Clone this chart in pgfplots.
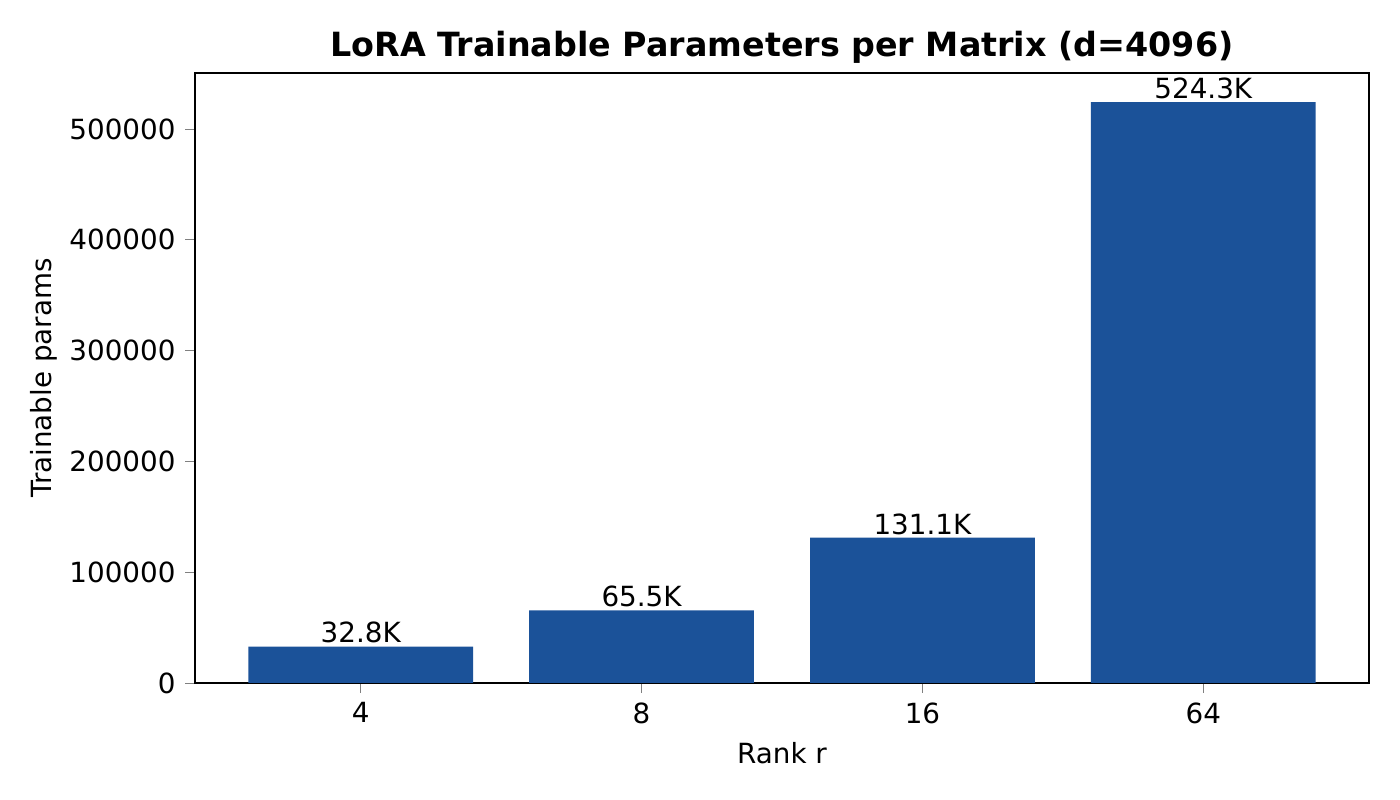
\documentclass[border=0pt]{standalone}
\usepackage{pgfplots}
\pgfplotsset{compat=1.18}
\usepackage{fontspec}
\setmainfont{DejaVu Sans}
\definecolor{barblue}{RGB}{27,82,153}

\begin{document}
\begin{tikzpicture}
\begin{axis}[
	scale only axis,
	width=422.64pt, height=219.6pt,
	at={(0,0)}, anchor=south west,
	title={\bfseries LoRA Trainable Parameters per Matrix (d=4096)},
	title style={font=\fontsize{12}{14}\selectfont\bfseries, yshift=-6pt},
	xlabel={Rank r}, ylabel={Trainable params},
	label style={font=\fontsize{10}{12}\selectfont},
	ylabel style={xshift=0pt, yshift=-2.5pt},
	tick label style={font=\fontsize{10}{12}\selectfont},
	xmin=-0.59, xmax=3.59,
	ymin=0, ymax=550502,
	xtick={0,1,2,3}, xticklabels={4,8,16,64},
	ytick={0,100000,200000,300000,400000,500000},
	scaled y ticks=false,
	/pgf/number format/.cd, fixed, 1000 sep={}, assume math mode=true,
	/pgfplots/.cd,
	tick align=outside, major tick length=3.5pt,
	xtick pos=bottom, ytick pos=left,
	ybar, bar width=0.8, bar shift=0pt,
	point meta=explicit symbolic,
	nodes near coords,
	nodes near coords style={font=\fontsize{10}{12}\selectfont, inner sep=1pt},
	axis line style={line width=0.8pt},
]
\addplot[fill=barblue, draw=none] coordinates {
	(0,32768) [32.8K]
	(1,65536) [65.5K]
	(2,131072) [131.1K]
	(3,524288) [524.3K]
};
\end{axis}
\pgfresetboundingbox
\path (-70.2pt,-42.12pt) rectangle (433.8pt,245.88pt);
\end{tikzpicture}
\end{document}
